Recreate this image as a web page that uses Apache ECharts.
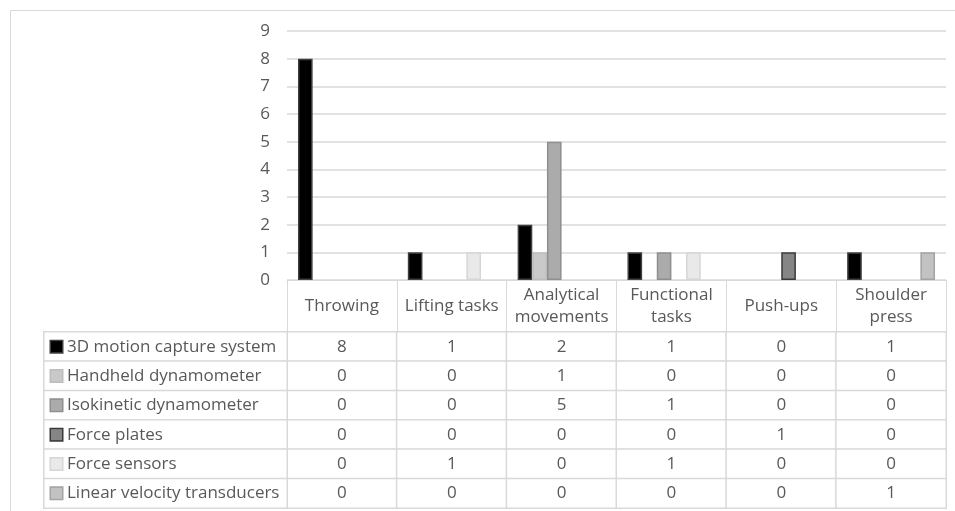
<!DOCTYPE html>
<html>
<head>
<meta charset="utf-8">
<script src="https://cdn.jsdelivr.net/npm/echarts@6/dist/echarts.min.js"></script>
<style>
  html, body { margin: 0; padding: 0; background: #fff; }
  #chart { width: 955px; height: 511px; }
</style>
</head>
<body>
<div id="chart"></div>
<script>
// Task categories (columns) and their header text
const categories = ['Throwing', 'Lifting tasks', 'Analytical movements', 'Functional tasks', 'Push-ups', 'Shoulder press'];
const headerLabels = ['Throwing', 'Lifting tasks', 'Analytical\nmovements', 'Functional\ntasks', 'Push-ups', 'Shoulder\npress'];

// Measurement instruments (series)
const seriesNames = [
  '3D motion capture system',
  'Handheld dynamometer',
  'Isokinetic dynamometer',
  'Force plates',
  'Force sensors',
  'Linear velocity transducers'
];

// Counts per instrument, one value per category
const motionCapture = [8, 1, 2, 1, 0, 1];
const handheldDyn   = [0, 0, 1, 0, 0, 0];
const isokineticDyn = [0, 0, 5, 1, 0, 0];
const forcePlates   = [0, 0, 0, 0, 1, 0];
const forceSensors  = [0, 1, 0, 1, 0, 0];
const linearVelTr   = [0, 0, 0, 0, 0, 1];

const seriesValues = [motionCapture, handheldDyn, isokineticDyn, forcePlates, forceSensors, linearVelTr];

// Y axis ticks
const yTicks = [0, 1, 2, 3, 4, 5, 6, 7, 8, 9];

// Greyscale fill / outline per instrument
const fills   = ['#000000', '#c9c9c9', '#ababab', '#858585', '#e9e9e9', '#c2c2c2'];
const strokes = ['#3f3f3f', '#bdbdbd', '#8f8f8f', '#3a3a3a', '#d6d6d6', '#a3a3a3'];

const FONT = 'Open Sans';
const FS = 17;
const TXT = '#595959';
const LINE = '#d9d9d9';

const chart = echarts.init(document.getElementById('chart'), null, { renderer: 'canvas' });

const barSeries = seriesValues.map((vals, i) => ({
  name: seriesNames[i],
  type: 'bar',
  xAxisIndex: 0,
  yAxisIndex: 0,
  barGap: '0%',
  barCategoryGap: '20%',
  data: vals.map(v => (v === 0 ? '-' : v)),
  itemStyle: { color: fills[i], borderColor: strokes[i], borderWidth: 1.5 },
  emphasis: { disabled: true }
}));

// Value cells of the data table
const cellData = [];
seriesValues.forEach((vals, r) => vals.forEach((v, c) => cellData.push([c, r, v])));

// Row header cells (legend key + instrument name)
const rowHeadData = seriesNames.map((n, r) => [0, r, 0]);

const rich = {};
seriesNames.forEach((n, i) => {
  rich['k' + i] = {
    width: 11, height: 11,
    backgroundColor: fills[i],
    borderColor: strokes[i],
    borderWidth: 1.5
  };
});
rich.t = { fontFamily: FONT, fontSize: FS, color: TXT, padding: [0, 0, 0, 5] };

const option = {
  animation: false,
  backgroundColor: '#ffffff',
  textStyle: { fontFamily: FONT },
  graphic: [{
    type: 'rect',
    left: 8, top: 8,
    shape: { width: 1000, height: 600 },
    style: { fill: 'none', stroke: LINE, lineWidth: 1 },
    silent: true, z: -10
  }],
  grid: [
    { left: 287, right: 9, top: 31, bottom: 231 },
    { left: 287, right: 9, top: 332, bottom: 3 },
    { left: 44, width: 243, top: 332, bottom: 3 }
  ],
  xAxis: [
    {
      type: 'category', gridIndex: 0, data: categories,
      axisLine: { lineStyle: { color: LINE, width: 1 } },
      axisTick: { show: true, length: 52, lineStyle: { color: LINE, width: 1 } },
      axisLabel: {
        interval: 0, margin: 26, verticalAlign: 'middle',
        fontFamily: FONT, fontSize: FS, color: TXT, lineHeight: 22,
        formatter: (v, idx) => headerLabels[idx]
      }
    },
    { type: 'category', gridIndex: 1, data: categories, show: false },
    { type: 'category', gridIndex: 2, data: [''], show: false }
  ],
  yAxis: [
    {
      type: 'value', gridIndex: 0, min: yTicks[0], max: yTicks[yTicks.length - 1], interval: 1,
      axisLine: { show: false }, axisTick: { show: false },
      axisLabel: { fontFamily: FONT, fontSize: FS, color: TXT, margin: 17 },
      splitLine: { lineStyle: { color: LINE, width: 1.5 } }
    },
    { type: 'category', gridIndex: 1, data: seriesNames, inverse: true, show: false },
    { type: 'category', gridIndex: 2, data: seriesNames, inverse: true, show: false }
  ],
  series: [
    ...barSeries,
    {
      type: 'heatmap', xAxisIndex: 1, yAxisIndex: 1, data: cellData,
      itemStyle: { color: '#ffffff', borderColor: LINE, borderWidth: 1.5 },
      label: { show: true, fontFamily: FONT, fontSize: FS, color: TXT, formatter: p => String(p.data[2]) },
      emphasis: { disabled: true }, silent: true
    },
    {
      type: 'heatmap', xAxisIndex: 2, yAxisIndex: 2, data: rowHeadData,
      itemStyle: { color: '#ffffff', borderColor: LINE, borderWidth: 1.5 },
      label: {
        show: true, position: 'insideLeft', distance: 8,
        formatter: p => '{k' + p.data[1] + '|}{t|' + seriesNames[p.data[1]] + '}',
        rich: rich
      },
      emphasis: { disabled: true }, silent: true
    }
  ]
};

chart.setOption(option);
</script>
</body>
</html>
